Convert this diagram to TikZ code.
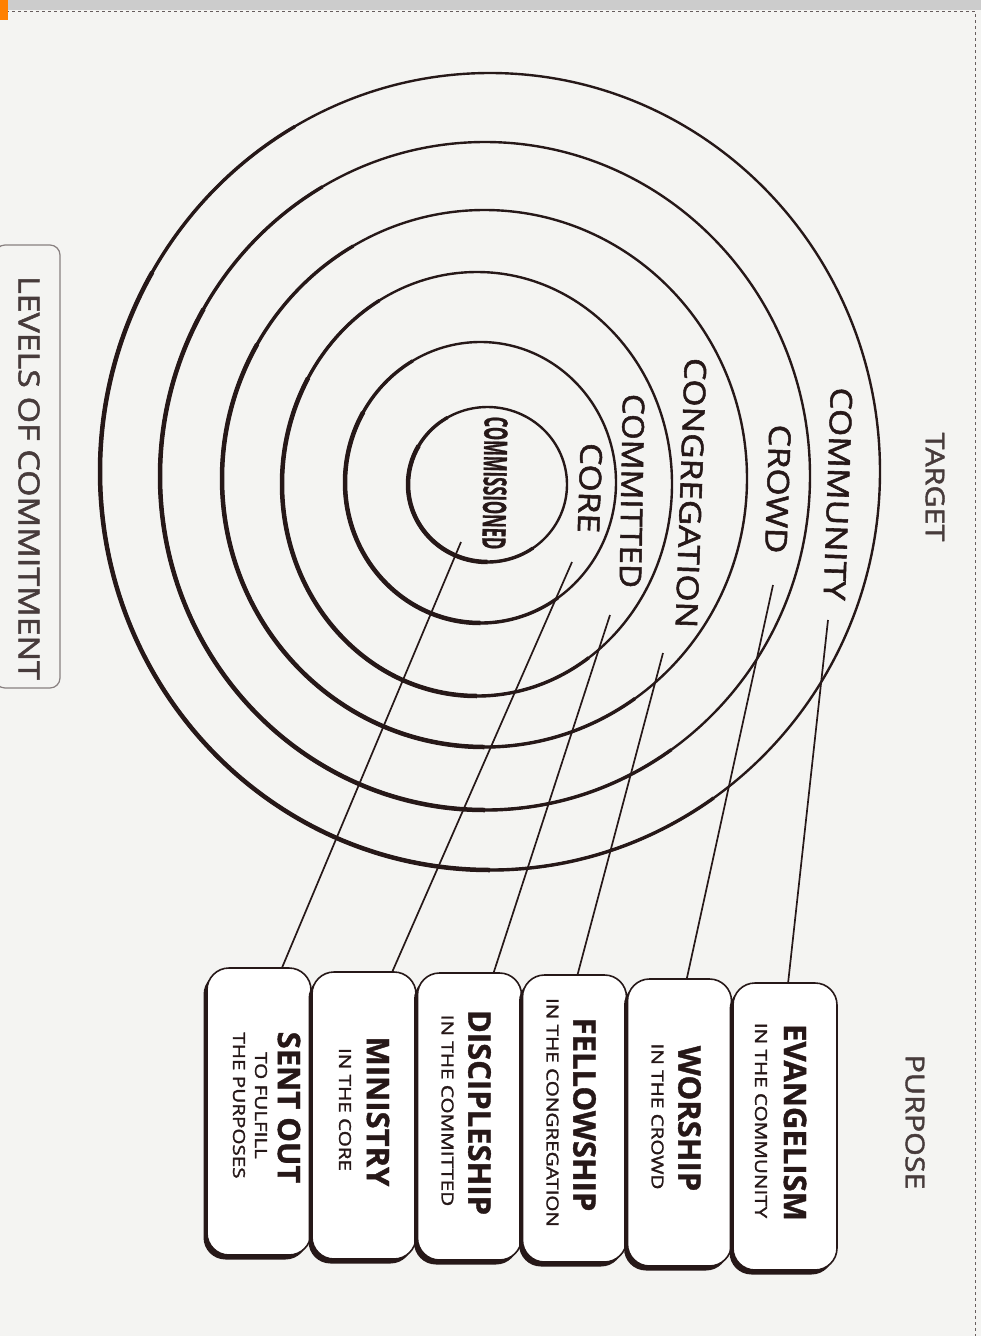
\documentclass[tikz,border=0pt]{standalone}
\usepackage{fontspec}
\setmainfont{Open Sans}
\newfontfamily\medfont[FakeBold=1.6]{Open Sans}
\newfontfamily\heavyfont[FakeBold=1.2]{Open Sans Bold}
\usetikzlibrary{calc,shadows}
\definecolor{ink}{RGB}{38,24,24}
\definecolor{paper}{RGB}{244,244,242}
\newcommand{\widetxt}[1]{\scalebox{1.17}[1]{#1}}
\newcommand{\subtxt}[1]{\scalebox{1.25}[1]{#1}}
\newcommand{\narrowtxt}[1]{\scalebox{0.52}[1]{#1}}
\begin{document}
\begin{tikzpicture}[x=1pt,y=-1pt,
  ring/.style={draw=ink, line width=2.4},
  ringlab/.style={text=ink, inner sep=0, font=\medfont\fontsize{30}{30}\selectfont, rotate=-92},
  headlab/.style={text=ink!85, inner sep=0, font=\medfont\fontsize{26}{26}\selectfont, rotate=-90},
  pbox/.style={draw=ink, line width=1.6, fill=white, rounded corners=22, minimum width=104, minimum height=287, inner sep=0,
    drop shadow={shadow xshift=-3.5pt, shadow yshift=-4.5pt, fill=ink, opacity=1}},
  ptitle/.style={text=ink, inner sep=0, font=\heavyfont\fontsize{31}{31}\selectfont, rotate=-90},
  psub/.style={text=ink, inner sep=0, font=\medfont\fontsize{16.5}{16.5}\selectfont, rotate=-90},
  link/.style={draw=ink, line width=1.7}
]
% background
\fill[paper] (0,0) rectangle (981,1336);
\useasboundingbox (0,0) rectangle (981,1336);
\fill[gray!40] (0,0) rectangle (981,10);
\draw[ink!70, dashed, line width=1] (0,11) -- (975,11) -- (975,1336);
\fill[orange] (0,0) rectangle (8,20);

% rings
\foreach \cx/\cy/\rx/\ry in {490/471.5/390/398.5, 485/476/325/334, 484.5/478.5/262.5/268.5, 477/484/195/212, 480.5/482.5/135.5/140.5, 487.5/484.5/79.5/77.5}{
  \draw[ring] (\cx,\cy) ellipse [x radius=\rx, y radius=\ry];
  \draw[ring, line width=3.4] ({\cx+\rx*cos(55)},{\cy+\ry*sin(55)}) arc[start angle=55, end angle=240, x radius=\rx, y radius=\ry];
  \draw[ring, line width=4.5] ({\cx+\rx*cos(90)},{\cy+\ry*sin(90)}) arc[start angle=90, end angle=210, x radius=\rx, y radius=\ry];
}

% ring labels
\node[ringlab] (lcommunity) at (838,494) {\widetxt{COMMUNITY}};
\node[ringlab] (lcrowd) at (778,489) {\widetxt{CROWD}};
\node[ringlab] (lcongregation) at (691,493) {\widetxt{CONGREGATION}};
\node[ringlab, rotate=1] (lcommitted) at (632,491) {\scalebox{1.1}[1]{COMMITTED}};
\node[ringlab] (lcore) at (590,488) {\widetxt{CORE}};
\node[text=ink, inner sep=0, rotate=-91, font=\heavyfont\fontsize{32}{32}\selectfont] (lcommissioned) at (495,483) {\narrowtxt{COMMISSIONED}};

% headings
\node[headlab] (target) at (935,487) {\widetxt{TARGET}};
\node[headlab] (purpose) at (915,1122) {\widetxt{PURPOSE}};
\node[headlab, font=\medfont\fontsize{29}{29}\selectfont] (levels) at (29,478) {\widetxt{LEVELS OF COMMITMENT}};
\draw[ink!55, line width=1.2, rounded corners=10] (-5,245) rectangle (60,688);

% purpose boxes
\foreach \nm/\x/\top in {b6/259/968, b5/364/972, b4/469.5/973, b3/574.5/975, b2/679.5/979, b1/785/983}{
  \node[pbox] (\nm) at (\x,\top+143.5) {};
}

\node[ptitle] (t1) at ($(b1.center)+(10,-4)$) {EVANGELISM};
\node[psub] (u1) at ($(b1.center)+(-24,-6)$) {\subtxt{IN THE COMMUNITY}};
\node[ptitle] (t2) at ($(b2.center)+(10,-4)$) {WORSHIP};
\node[psub] (u2) at ($(b2.center)+(-22,-6)$) {\subtxt{IN THE CROWD}};
\node[ptitle] (t3) at ($(b3.center)+(10,-4)$) {FELLOWSHIP};
\node[psub] (u3) at ($(b3.center)+(-22,-6)$) {\subtxt{IN THE CONGREGATION}};
\node[ptitle] (t4) at ($(b4.center)+(10,-4)$) {DISCIPLESHIP};
\node[psub] (u4) at ($(b4.center)+(-22,-6)$) {\subtxt{IN THE COMMITTED}};
\node[ptitle] (t5) at ($(b5.center)+(14,-4)$) {MINISTRY};
\node[psub] (u5) at ($(b5.center)+(-19,-6)$) {\subtxt{IN THE CORE}};
\node[ptitle] (t6) at ($(b6.center)+(30,-4)$) {SENT OUT};
\node[psub] (u6a) at ($(b6.center)+(2,-6)$) {\subtxt{TO FULFILL}};
\node[psub] (u6b) at ($(b6.center)+(-20,-6)$) {\subtxt{THE PURPOSES}};

% connectors
\coordinate (c1) at (828,620);
\coordinate (c2) at (773,585);
\coordinate (c3) at (663,653);
\coordinate (c4) at (610,615);
\coordinate (c5) at (572,562);
\coordinate (c6) at (461,542);
\draw[link] (c1) -- ($(b1.north west)!0.53!(b1.north east)$);
\draw[link] (c2) -- ($(b2.north west)!0.57!(b2.north east)$);
\draw[link] (c3) -- ($(b3.north west)!0.53!(b3.north east)$);
\draw[link] (c4) -- ($(b4.north west)!0.73!(b4.north east)$);
\draw[link] (c5) -- ($(b5.north west)!0.77!(b5.north east)$);
\draw[link] (c6) -- ($(b6.north west)!0.72!(b6.north east)$);
\end{tikzpicture}
\end{document}
